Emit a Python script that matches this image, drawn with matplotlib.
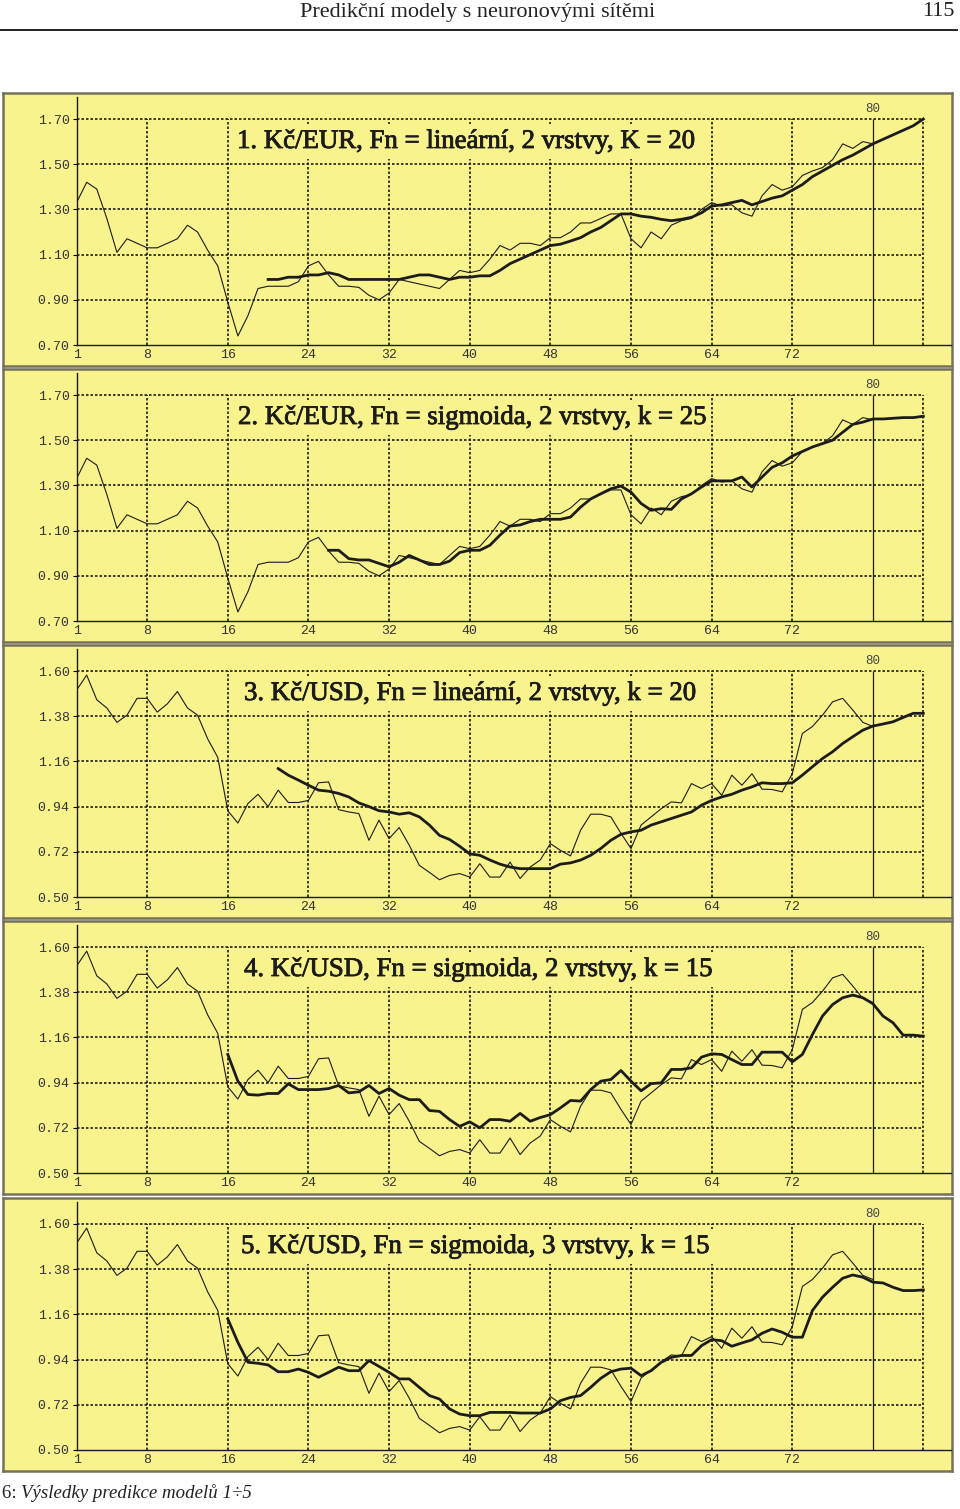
import matplotlib.pyplot as plt
import matplotlib.patheffects as pe
from matplotlib.lines import Line2D

# Actual exchange rate (thin line), periods 1..80
eur_actual = [1.33, 1.42, 1.39, 1.26, 1.11, 1.17, 1.15, 1.13, 1.13, 1.15,
              1.17, 1.23, 1.20, 1.12, 1.05, 0.89, 0.74, 0.83, 0.95, 0.96,
              0.96, 0.96, 0.98, 1.05, 1.07, 1.01, 0.96, 0.96, 0.955, 0.92,
              0.90, 0.93, 0.99, 0.98, 0.97, 0.96, 0.95, 0.99, 1.03, 1.02,
              1.03, 1.08, 1.14, 1.12, 1.15, 1.15, 1.14, 1.175, 1.175, 1.20,
              1.24, 1.24, 1.26, 1.28, 1.28, 1.17, 1.13, 1.20, 1.17, 1.23,
              1.25, 1.26, 1.30, 1.33, 1.315, 1.32, 1.285, 1.27, 1.36, 1.41,
              1.385, 1.40, 1.45, 1.47, 1.485, 1.52, 1.59, 1.57, 1.60, 1.59]

usd_actual = [1.507, 1.58, 1.46, 1.42, 1.35, 1.385, 1.467, 1.467, 1.40, 1.44,
              1.50, 1.42, 1.385, 1.27, 1.18, 0.92, 0.86, 0.955, 1.00, 0.94,
              1.02, 0.96, 0.96, 0.97, 1.056, 1.06, 0.925, 0.914, 0.906, 0.776,
              0.874, 0.784, 0.838, 0.752, 0.654, 0.62, 0.584, 0.605, 0.614, 0.597,
              0.662, 0.597, 0.597, 0.67, 0.59, 0.646, 0.68, 0.76, 0.727, 0.70,
              0.825, 0.903, 0.903, 0.89, 0.81, 0.736, 0.85, 0.89, 0.93, 0.963,
              0.958, 1.052, 1.028, 1.052, 0.995, 1.093, 1.044, 1.10, 1.025, 1.023,
              1.012, 1.10, 1.296, 1.33, 1.385, 1.45, 1.467, 1.41, 1.35, 1.33]

# Model outputs (thick line), from the first predicted period up to 85
eur_lin_k20_start = 20
eur_lin_k20 = [0.99, 0.99, 1.00, 1.00, 1.01, 1.01, 1.02, 1.01, 0.99, 0.99,
               0.99, 0.99, 0.99, 0.99, 1.00, 1.01, 1.01, 1.00, 0.99, 1.00, 1.00,
               1.006, 1.006, 1.03, 1.06, 1.08, 1.10, 1.12, 1.14, 1.146, 1.16,
               1.175, 1.20, 1.22, 1.25, 1.28, 1.28, 1.27, 1.265, 1.256, 1.25,
               1.256, 1.265, 1.285, 1.315, 1.32, 1.33, 1.34, 1.32, 1.335, 1.35,
               1.36, 1.385, 1.41, 1.445, 1.47, 1.495, 1.52, 1.54, 1.565, 1.59,
               1.61, 1.63, 1.65, 1.67, 1.70]

eur_sig_k25_start = 26
eur_sig_k25 = [1.013, 1.013, 0.976, 0.97, 0.97, 0.955, 0.94, 0.96, 0.99, 0.97,
               0.95, 0.95, 0.965, 1.003, 1.013,
               1.013, 1.035, 1.08, 1.12, 1.125, 1.14, 1.15, 1.15, 1.15, 1.16,
               1.204, 1.24, 1.263, 1.285, 1.297, 1.27, 1.22, 1.19, 1.197, 1.194,
               1.24, 1.263, 1.293, 1.32, 1.32, 1.32, 1.337, 1.293, 1.337, 1.38,
               1.40, 1.43, 1.45, 1.47, 1.485, 1.50, 1.535, 1.57, 1.58, 1.594,
               1.594, 1.597, 1.60, 1.60, 1.606]

usd_lin_k20_start = 21
usd_lin_k20 = [1.125, 1.093, 1.069, 1.044, 1.02, 1.015, 1.004, 0.987, 0.958, 0.94,
               0.92, 0.914, 0.903, 0.91, 0.89, 0.85, 0.80, 0.78, 0.747, 0.71,
               0.703, 0.68, 0.66, 0.646, 0.638, 0.638, 0.638, 0.638, 0.66, 0.666,
               0.68, 0.703, 0.736, 0.776, 0.805, 0.817, 0.825, 0.85, 0.866, 0.882,
               0.898, 0.914, 0.947, 0.97, 0.987, 1.00, 1.02, 1.036, 1.056, 1.052,
               1.052, 1.056, 1.093, 1.134, 1.174, 1.207, 1.247, 1.28, 1.312, 1.332,
               1.342, 1.353, 1.374, 1.394, 1.394]

usd_sig2_k15_start = 16
usd_sig2_k15 = [1.077, 0.947, 0.882, 0.879, 0.887, 0.887, 0.934, 0.906, 0.906, 0.906,
                0.911, 0.926, 0.89, 0.895, 0.926, 0.887, 0.911, 0.879, 0.857, 0.857,
                0.804, 0.80, 0.76, 0.727, 0.749,
                0.72, 0.76, 0.76, 0.752, 0.79, 0.752, 0.77, 0.784, 0.817, 0.853,
                0.85, 0.906, 0.947, 0.955, 0.999, 0.947, 0.90, 0.935, 0.939, 1.004,
                1.004, 1.012, 1.064, 1.08, 1.077, 1.052, 1.028, 1.028, 1.088, 1.088,
                1.088, 1.041, 1.077, 1.174, 1.264, 1.32, 1.353, 1.366, 1.353, 1.324,
                1.264, 1.231, 1.171, 1.171, 1.166]

usd_sig3_k15_start = 16
usd_sig3_k15 = [1.138, 1.024, 0.927, 0.922, 0.914, 0.881, 0.881, 0.894, 0.878, 0.854,
                0.878, 0.903, 0.886, 0.886, 0.935, 0.907, 0.878, 0.846, 0.846, 0.805,
                0.765, 0.748, 0.70, 0.675, 0.667,
                0.667, 0.683, 0.683, 0.683, 0.68, 0.68, 0.68, 0.70, 0.74, 0.756,
                0.765, 0.805, 0.849, 0.881, 0.894, 0.898, 0.862, 0.886, 0.927, 0.951,
                0.96, 0.96, 1.008, 1.037, 1.032, 1.005, 1.021, 1.036, 1.068, 1.089,
                1.073, 1.049, 1.049, 1.179, 1.244, 1.292, 1.336, 1.352, 1.341, 1.317,
                1.313, 1.292, 1.276, 1.276, 1.279]

x_ticks = [1, 8, 16, 24, 32, 40, 48, 56, 64, 72]
eur_ticks = [0.70, 0.90, 1.10, 1.30, 1.50, 1.70]
usd_ticks = [0.50, 0.72, 0.94, 1.16, 1.38, 1.60]
last_known = 80
horizon = 85

titles = ['1. Kč/EUR, Fn = lineární, 2 vrstvy, K = 20',
          '2. Kč/EUR, Fn = sigmoida, 2 vrstvy, k = 25',
          '3. Kč/USD, Fn = lineární, 2 vrstvy, k = 20',
          '4. Kč/USD, Fn = sigmoida, 2 vrstvy, k = 15',
          '5. Kč/USD, Fn = sigmoida, 3 vrstvy, k = 15']

W, H = 960, 1509
BG = '#f9f38e'
INK = '#1c1c1c'
SERIF = ['Liberation Serif', 'DejaVu Serif']
MONO = ['Liberation Mono', 'DejaVu Sans Mono']
GRID = (0, (1.5, 1.2))


def frac(x0, y0, x1, y1):
    # pixel box -> figure fraction [left, bottom, width, height]
    return [x0 / W, 1 - y1 / H, (x1 - x0) / W, (y1 - y0) / H]


fig = plt.figure(figsize=(W / 100, H / 100), dpi=100)

panels = [
    (eur_ticks, eur_actual, eur_lin_k20, eur_lin_k20_start, 93, 237),
    (eur_ticks, eur_actual, eur_sig_k25, eur_sig_k25_start, 369, 238),
    (usd_ticks, usd_actual, usd_lin_k20, usd_lin_k20_start, 645, 244),
    (usd_ticks, usd_actual, usd_sig2_k15, usd_sig2_k15_start, 921, 244),
    (usd_ticks, usd_actual, usd_sig3_k15, usd_sig3_k15_start, 1198, 241),
]

for title, (yt, actual, model, start, top, title_x) in zip(titles, panels):
    # yellow framed background of one panel
    bg = fig.add_axes(frac(3, top, 952, top + 273))
    bg.set_facecolor(BG)
    bg.set_xticks([])
    bg.set_yticks([])
    for s in bg.spines.values():
        s.set_color('#77715a')
        s.set_linewidth(1.8)

    ax = fig.add_axes(frac(76.6, top + 4, 951, top + 252))
    ax.patch.set_visible(False)
    lo, hi = yt[0], yt[-1]
    ax.set_ylim(lo, lo + (hi - lo) * 248 / 226)
    ax.set_xlim(1, 1 + (951 - 76.6) / 10.08)

    ax.hlines(yt[1:], 1, horizon, colors=INK, linestyles=GRID, lw=1.2)
    ax.vlines(x_ticks[1:] + [horizon], lo, hi, colors=INK, linestyles=GRID, lw=1.2)
    ax.vlines(last_known, lo, hi, colors=INK, lw=0.9)
    ax.annotate(str(last_known), (last_known, hi), xytext=(0, 3),
                textcoords='offset points', ha='center', va='bottom',
                fontsize=9, family=MONO, color='#444444')

    ax.plot(range(1, last_known + 1), actual, color=INK, lw=0.8)
    ax.plot(range(start, start + len(model)), model, color=INK, lw=2.0,
            solid_joinstyle='round')

    for side in ['top', 'right']:
        ax.spines[side].set_visible(False)
    for side in ['left', 'bottom']:
        ax.spines[side].set_color(INK)
        ax.spines[side].set_linewidth(1.0)

    ax.set_xticks(x_ticks)
    ax.set_yticks(yt)
    ax.set_yticklabels(['%.2f' % v for v in yt])
    ax.tick_params(axis='y', direction='out', length=3, width=0.8, pad=2,
                   labelsize=9.5, labelcolor='#333333')
    ax.tick_params(axis='x', length=0, pad=3, labelsize=9.5, labelcolor='#333333')
    for lab in ax.get_xticklabels() + ax.get_yticklabels():
        lab.set_fontfamily(MONO)

    fig.text(title_x / W, 1 - (top + 48.5) / H, title, fontsize=19.3, family=SERIF,
             color=INK, ha='left', va='center',
             path_effects=[pe.withStroke(linewidth=0.6, foreground=INK)],
             bbox=dict(boxstyle='square,pad=0.18', facecolor=BG, edgecolor='none'))

# page header and caption
fig.text(478 / W, 1 - 12 / H, 'Predikční modely s neuronovými sítěmi',
         fontsize=16, family=SERIF, color='#222222', ha='center', va='center')
fig.text(955 / W, 1 - 12 / H, '115', fontsize=16, family=SERIF,
         color='#222222', ha='right', va='center')
fig.add_artist(Line2D([0, 957 / W], [1 - 30 / H, 1 - 30 / H], color='#222222', lw=1.4))

num = fig.text(2 / W, 1 - 1493 / H, '6: ', fontsize=13.6, family=SERIF,
               color='#222222', ha='left', va='center')
fig.canvas.draw()
ext = num.get_window_extent(fig.canvas.get_renderer())
fig.text(ext.x1 / W, 1 - 1493 / H, 'Výsledky predikce modelů 1÷5', fontsize=13.6,
         family=SERIF, style='italic', color='#222222', ha='left', va='center')

fig.savefig('out.png', dpi=100)
